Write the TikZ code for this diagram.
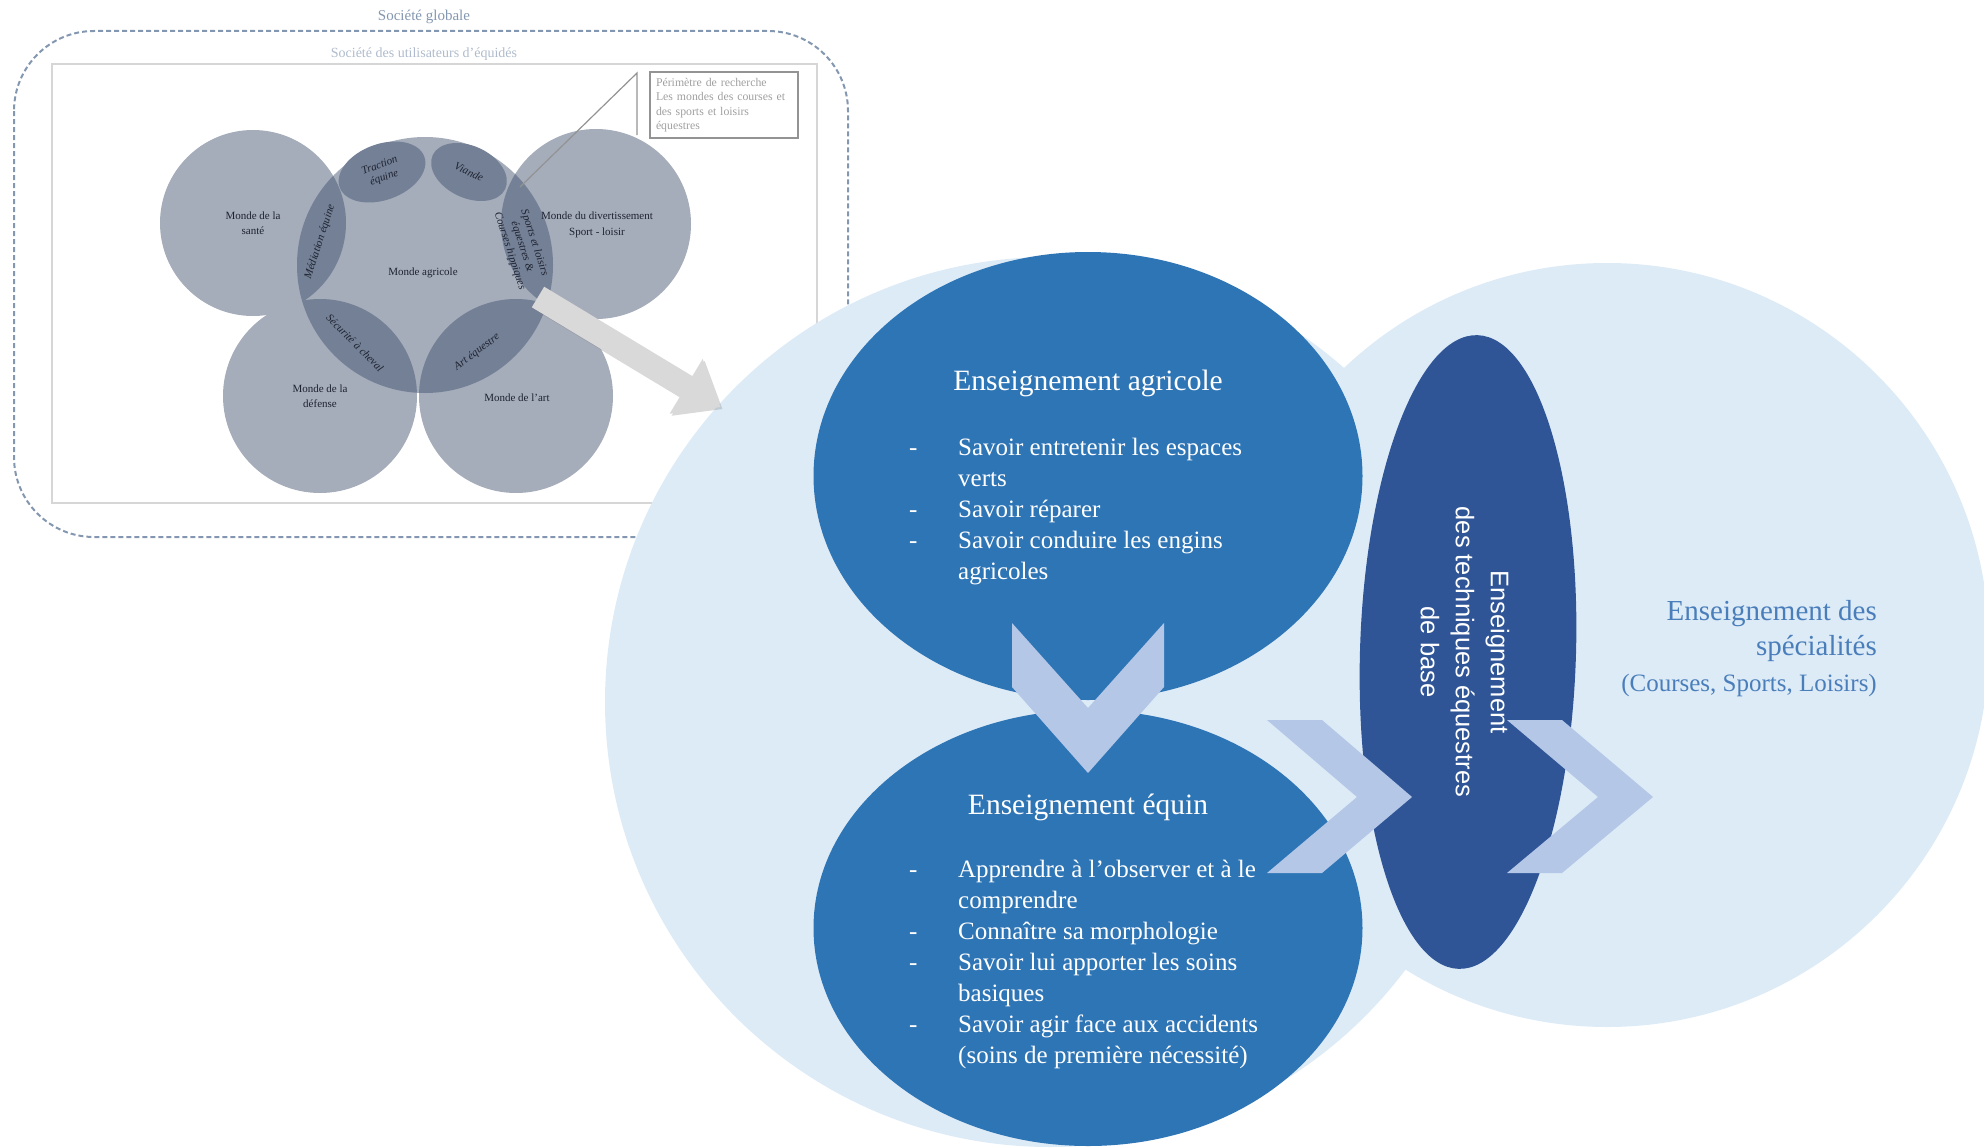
\documentclass[tikz,border=0pt]{standalone}
\usepackage{fontspec}
\setmainfont{Liberation Serif}
\setsansfont{Liberation Sans}
\usepackage{xcolor}
\usepackage{tikz}
\usetikzlibrary{shapes.geometric, positioning, calc, shadows}
\definecolor{pale}{HTML}{DDEBF7}
\definecolor{bleu}{HTML}{2E75B6}
\definecolor{bleufonce}{HTML}{2F5597}
\definecolor{chevclair}{HTML}{B4C7E7}
\definecolor{bleutexte}{HTML}{4A7EBB}
\definecolor{grismonde}{HTML}{A5ACBA}
\definecolor{grislentille}{HTML}{738096}
\definecolor{encre}{HTML}{1E2330}
\definecolor{pointille}{HTML}{8497B0}
\definecolor{grisfleche}{HTML}{D9D9D9}
\definecolor{griscadre}{HTML}{D6D6D6}

\begin{document}
\begin{tikzpicture}[x=1pt, y=-1pt,
  monde/.style={circle, fill=grismonde, inner sep=0pt},
  lentille/.style={fill=grislentille},
  petit/.style={ellipse, fill=grislentille, inner sep=0pt, align=center, text=encre, font=\fontsize{11}{13}\selectfont\itshape},
  nom/.style={align=center, text=encre, inner sep=0pt, font=\fontsize{11}{15.5}\selectfont},
  etiquette/.style={align=center, text=encre, inner sep=0pt, font=\fontsize{11}{13}\selectfont\itshape},
  fond/.style={circle, fill=pale, inner sep=0pt},
  ensbleu/.style={ellipse, fill=bleu, inner sep=0pt},
  titre/.style={text=white, inner sep=0pt, font=\fontsize{29.5}{35}\selectfont},
  liste/.style={text=white, anchor=west, inner sep=0pt, font=\fontsize{25}{31}\selectfont},
  chevronbox/.style={fill=chevclair},
]
  \useasboundingbox (0,0) rectangle (1984,1148);

  % encart : les mondes du cheval
  \node[text=pointille, font=\fontsize{15}{18}\selectfont] (globale) at (424,17) {Société globale};
  \draw[pointille, line width=2pt, dash pattern=on 5pt off 3pt, rounded corners=80pt] (14,31) rectangle (848,537);
  \node[text=pointille!65, font=\fontsize{14}{17}\selectfont] (utilisateurs) at (424,54) {Société des utilisateurs d’équidés};
  \draw[griscadre, line width=2pt] (52,64) rectangle (817,503);

  \node[monde, minimum size=186pt] (sante) at (253,223) {};
  \node[monde, minimum size=256pt] (agri) at (425,265) {};
  \node[monde, minimum size=190pt] (divert) at (596,224) {};
  \node[monde, minimum size=194pt] (defense) at (320,396) {};
  \node[monde, minimum size=194pt] (art) at (516,396) {};

  \begin{scope}
    \clip (sante.center) circle (93pt);
    \fill[lentille] (agri.center) circle (128pt);
  \end{scope}
  \begin{scope}
    \clip (divert.center) circle (95pt);
    \fill[lentille] (agri.center) circle (128pt);
  \end{scope}
  \begin{scope}
    \clip (defense.center) circle (97pt);
    \fill[lentille] (agri.center) circle (128pt);
  \end{scope}
  \begin{scope}
    \clip (art.center) circle (97pt);
    \fill[lentille] (agri.center) circle (128pt);
  \end{scope}

  \node[petit, minimum width=90pt, minimum height=56pt, rotate=20] (traction) at (382,172) {Traction\\équine};
  \node[petit, minimum width=80pt, minimum height=52pt, rotate=-25] (viande) at (469,172) {Viande};

  \node[etiquette, rotate=72] (mediation) at (320,242) {Médiation équine};
  \node[etiquette, rotate=-72] (sports) at (522,247) {Sports et loisirs\\équestres \&\\Courses hippiques};
  \node[etiquette, rotate=-45] (securite) at (355,343) {Sécurité à cheval};
  \node[etiquette, rotate=37] (artequestre) at (477,352) {Art équestre};

  \node[nom] (santelbl) at (sante) {Monde de la\\santé};
  \node[nom] (agrilbl) at (423,273) {Monde agricole};
  \node[nom] (divertlbl) at (597,225) {Monde du divertissement\\Sport - loisir};
  \node[nom] (defenselbl) at (defense) {Monde de la\\défense};
  \node[nom] (artlbl) at (517,398) {Monde de l’art};

  \node[draw=gray!85, line width=1.3pt, text=gray!75, align=left, text width=136pt, inner sep=6pt, minimum height=65pt, font=\fontsize{11.8}{14.4}\selectfont] (perimetre) at (724,105) {Périmètre de recherche\\Les mondes des courses et\\des sports et loisirs\\équestres};
  \coordinate (barre) at (637,73);
  \coordinate (barrebas) at (637,135);
  \coordinate (visee) at (520,187);
  \draw[gray!85, line width=1.2pt] (barrebas) -- (barre) -- (visee);

  % schema de formation
  \node[fond, minimum size=890pt] (grand) at (1050,702) {};
  \node[fond, minimum size=764pt] (specialites) at (1607,645) {};

  \node[ensbleu, minimum width=549pt, minimum height=448pt] (ensagri) at (1088,476) {};
  \node[ensbleu, minimum width=549pt, minimum height=436pt] (ensequin) at (1088,928) {};
  \fill[chevronbox] (1012,623) -- (1088,708) -- (1164,623) -- (1164,687) -- (1088,773) -- (1012,687) -- cycle;

  \node[ellipse, fill=bleufonce, inner sep=0pt, minimum width=216pt, minimum height=634pt, rotate=-1.7] (techbase) at (1468,652) {};
  \fill[chevronbox] (1267,720) -- (1322,720) -- (1412,797) -- (1322,873) -- (1267,873) -- (1357,797) -- cycle;
  \fill[chevronbox] (1507,720) -- (1562,720) -- (1653,797) -- (1562,873) -- (1507,873) -- (1598,797) -- cycle;

  \node[titre] (titreagri) at (1088,383) {Enseignement agricole};
  \node[liste] (listeagri) at (909,511) {\begin{tabular}{@{}p{49pt}@{}l@{}}
    - & Savoir entretenir les espaces\\
      & verts\\
    - & Savoir réparer\\
    - & Savoir conduire les engins\\
      & agricoles
  \end{tabular}};

  \node[titre] (titreequin) at (1088,807) {Enseignement équin};
  \node[liste] (listeequin) at (909,964) {\begin{tabular}{@{}p{49pt}@{}l@{}}
    - & Apprendre à l’observer et à le\\
      & comprendre\\
    - & Connaître sa morphologie\\
    - & Savoir lui apporter les soins\\
      & basiques\\
    - & Savoir agir face aux accidents\\
      & (soins de première nécessité)
  \end{tabular}};

  \node[text=white, align=center, rotate=-90, inner sep=0pt, font=\sffamily\fontsize{25.5}{35}\selectfont] (texttech) at (1465,652) {Enseignement\\des techniques équestres\\de base};

  \node[text=bleutexte, align=right, anchor=east, inner sep=0pt, font=\fontsize{29}{35}\selectfont] (spec) at (1877,631) {Enseignement des\\spécialités};
  \node[text=bleutexte, inner sep=0pt, font=\fontsize{25}{30}\selectfont, below=12pt of spec.south east, anchor=north east] (specdetail) {(Courses, Sports, Loisirs)};

  % fleche de l'encart vers le schema
  \coordinate (depart) at (538,297);
  \begin{scope}[shift={(depart)}, rotate=-31.1]
    \fill[grisfleche, drop shadow={opacity=0.3, shadow xshift=2pt, shadow yshift=-2pt}] (0,-12) -- (173,-12) -- (173,-32) -- (213,0) -- (173,32) -- (173,12) -- (0,12) -- cycle;
  \end{scope}

\end{tikzpicture}
\end{document}
